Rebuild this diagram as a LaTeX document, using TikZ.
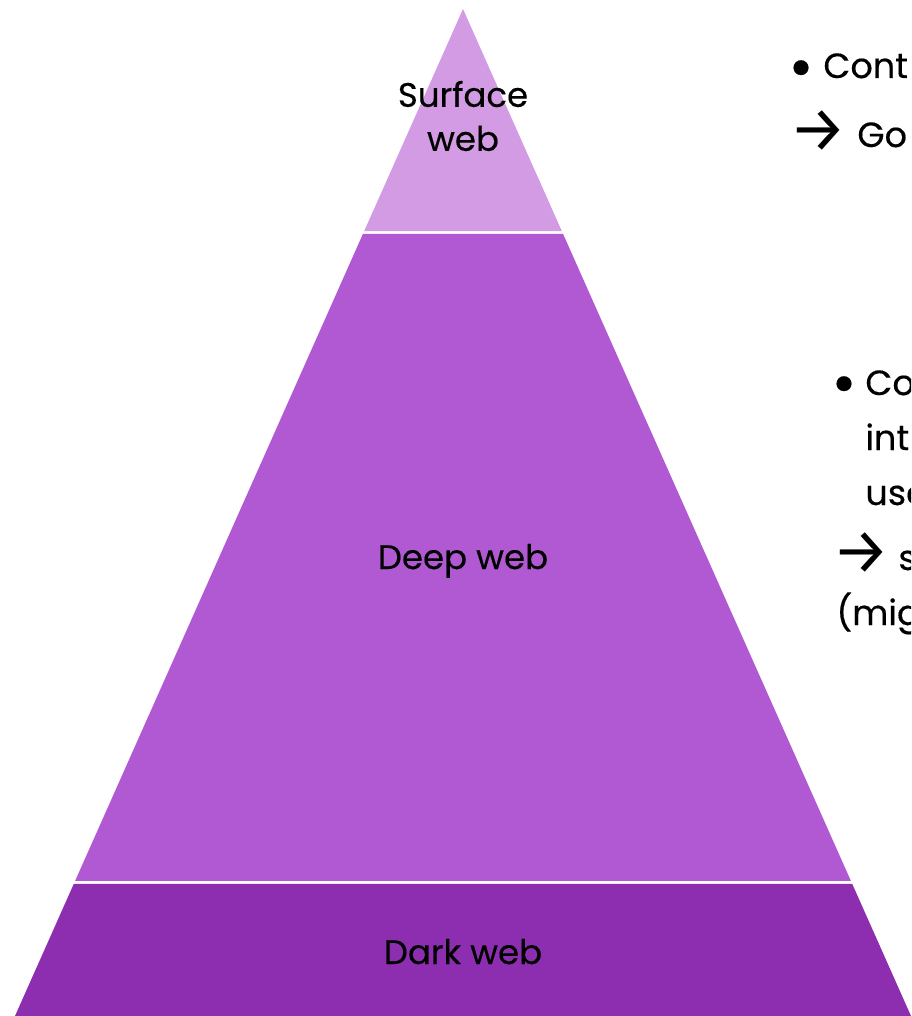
\documentclass[tikz,border=0pt]{standalone}
\usepackage{fontspec}
\setmainfont{Poppins}[FakeBold=0.35]
\newfontfamily\arrowfont{Fira Sans}
\usetikzlibrary{calc}
\definecolor{surfacecol}{RGB}{210,155,227}
\definecolor{deepcol}{RGB}{176,89,210}
\definecolor{darkcol}{RGB}{141,46,176}

\begin{document}
\begin{tikzpicture}[x=0.5pt, y=-0.5pt,
    every node/.style={inner sep=0pt, font=\fontsize{17}{22}\selectfont},
    layer/.style={anchor=base, align=center},
    note/.style={anchor=base west, font=\fontsize{17.5}{22}\selectfont},
    dot/.style={anchor=center, font=\fontsize{30}{22}\selectfont},
    arr/.style={anchor=west, font=\fontsize{32}{22}\arrowfont}]
\useasboundingbox (0,0) rectangle (911,1016);
\clip (0,0) rectangle (911,1016);
\coordinate (top) at (463,9);
\coordinate (bl) at (15,1016);
\coordinate (br) at (911,1016);
% the three layers, with a thin white gap between them
\fill[surfacecol] (top) -- ($(top)!0.2205!(bl)$) -- ($(top)!0.2205!(br)$) -- cycle;
\fill[deepcol] ($(top)!0.2234!(bl)$) -- ($(top)!0.8659!(bl)$) -- ($(top)!0.8659!(br)$) -- ($(top)!0.2234!(br)$) -- cycle;
\fill[darkcol] ($(top)!0.8689!(bl)$) -- (bl) -- (br) -- ($(top)!0.8689!(br)$) -- cycle;
% layer names
\node[anchor=center, align=center] (surface) at (463,116) {Surface\\web};
\node[layer] (deep) at (463,569) {Deep web};
\node[layer] (dark) at (463,964) {Dark web};
% notes on the right
\node[dot] (b1) at (801,74) {•};
\node[note] (t1) at (823,78) {Cont};
\node[arr] (a1) at (789,131) {→};
\node[note] (t2) at (857,147) {Go};
\node[dot] (b2) at (844,390) {•};
\node[note] (t3) at (865,395) {Co};
\node[note] (t4) at (865,450) {int};
\node[note] (t5) at (865,505) {use};
\node[arr] (a2) at (832,553) {→};
\node[note] (t6) at (898,570) {s};
\node[note] (t7) at (836,625) {(mig};
\end{tikzpicture}
\end{document}
